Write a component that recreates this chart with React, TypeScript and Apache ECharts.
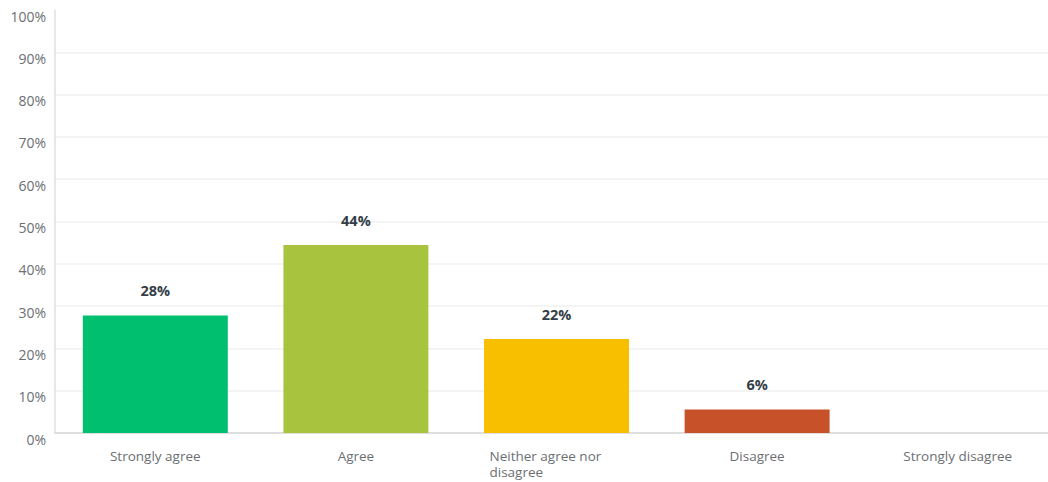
import React, { useEffect, useRef } from "react";
import * as echarts from "echarts";

const categories = ["Strongly agree", "Agree", "Neither agree nor disagree", "Disagree", "Strongly disagree"];
const values = [27.78, 44.44, 22.22, 5.56, 0];
const colors = ["#00bf6f", "#a8c33e", "#f8be00", "#c7522a", "#6b787f"];
const yTicks = { min: 0, max: 100, interval: 10 };

export default function App() {
  const ref = useRef<HTMLDivElement>(null);
  useEffect(() => {
    if (!ref.current) return;
    const chart = echarts.init(ref.current, undefined, { renderer: "svg" });
    const font = "'Open Sans', 'Noto Sans', sans-serif";
    chart.setOption({
      animation: false,
      grid: { left: 55, width: 1003, top: 10, height: 423, containLabel: false, outerBoundsMode: "none" },
      xAxis: {
        type: "category",
        data: categories,
        axisTick: { show: false },
        axisLine: { lineStyle: { color: "#d3d3d3", width: 1.5 } },
        axisLabel: {
          interval: 0,
          margin: 15,
          fontFamily: font,
          fontSize: 13.5,
          color: "#6b6f73",
          formatter: (v: string) => {
            if (v === "Neither agree nor disagree") return "{l|Neither agree nor}\n{l|disagree}";
            return "{c|" + v + "}";
          },
          rich: {
            l: { width: 134, align: "left", fontSize: 13.5, color: "#6b6f73", fontFamily: font, lineHeight: 16 },
            c: { fontSize: 13.5, color: "#6b6f73", fontFamily: font, lineHeight: 16 },
          },
        },
      },
      yAxis: {
        type: "value",
        min: yTicks.min,
        max: yTicks.max,
        interval: yTicks.interval,
        axisLine: { show: true, lineStyle: { color: "#e0e0e0", width: 1.5 } },
        axisTick: { show: false },
        splitLine: { show: true, showMaxLine: false, showMinLine: false, lineStyle: { color: "#f0f0f0", width: 1.5 } },
        axisLabel: {
          formatter: "{value}%",
          fontFamily: font,
          fontSize: 14,
          color: "#6b6f73",
          margin: 9,
          verticalAlign: "top",
          padding: [-1, 0, 0, 0],
        },
      },
      series: [
        {
          type: "bar",
          barWidth: 145,
          data: values.map((v, i) => ({ value: v, itemStyle: { color: colors[i] } })),
          label: {
            show: true,
            position: "top",
            distance: 17,
            fontFamily: font,
            fontSize: 14.5,
            fontWeight: "bold",
            color: "#333e48",
            formatter: (p: any) => (p.value > 0 ? Math.round(p.value) + "%" : ""),
          },
        },
      ],
    });
    return () => chart.dispose();
  }, []);
  return <div ref={ref} style={{ width: 1048, height: 482, position: "absolute", left: 0, top: 0 }} />;
}
